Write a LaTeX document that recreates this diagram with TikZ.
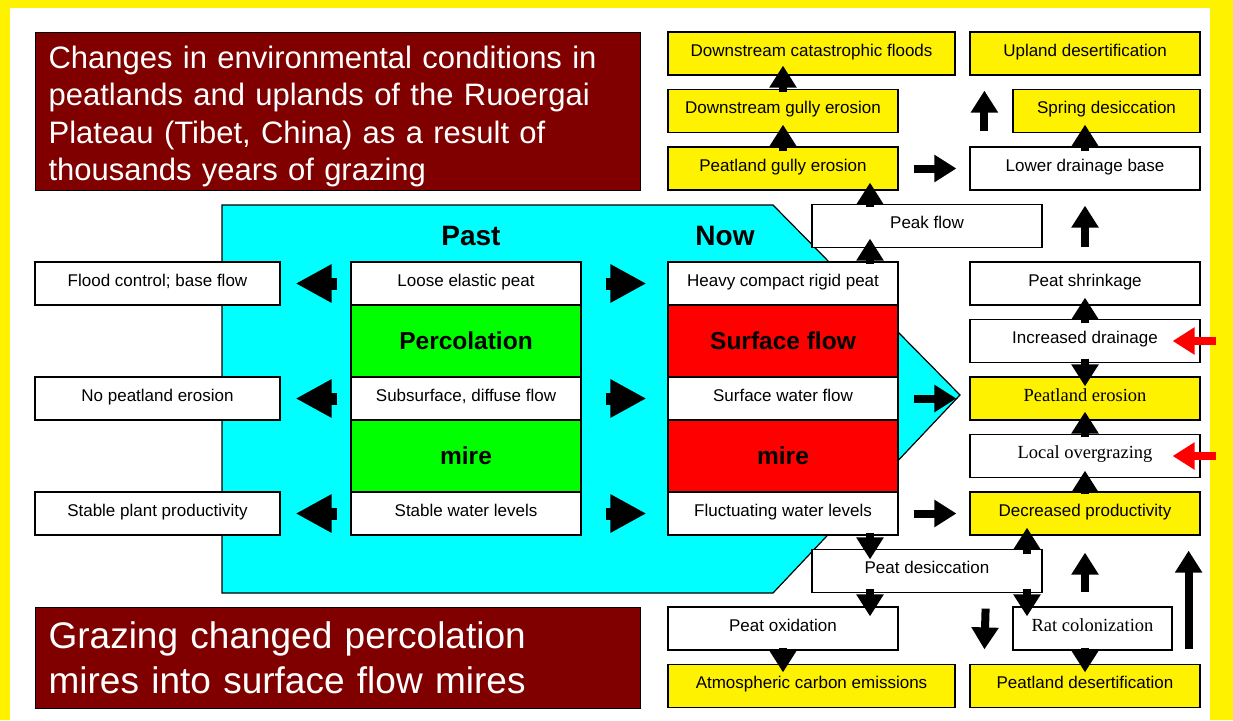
\documentclass[tikz,border=0pt]{standalone}
\usepackage{fontspec}
\setmainfont{Liberation Sans}
\newfontfamily\timesfont{Liberation Serif}
\usepackage{tikz}
\usetikzlibrary{arrows.meta,calc}
\definecolor{titlered}{HTML}{800000}
\definecolor{water}{HTML}{00FFFF}

\begin{document}
\begin{tikzpicture}[x=1pt,y=-1pt,
	cell/.style={draw,line width=1.2pt,minimum width=230,minimum height=43,inner sep=0pt,text height=12.5pt,text depth=7pt,font=\fontsize{17}{19}\selectfont},
	wcell/.style={cell,fill=white},
	ycell/.style={cell,fill=yellow},
	tcell/.style={font=\timesfont\fontsize{18.5}{20}\selectfont},
	flowcell/.style={cell,minimum height=72,text height=17.5pt,text depth=0pt,font=\bfseries\fontsize{24.5}{26}\selectfont},
	headbox/.style={draw,line width=1.2pt,fill=titlered,text=white,anchor=north west,inner xsep=13pt,inner ysep=0pt,text width=579pt,align=left},
	fat/.style={line width=8pt,-{Triangle[length=22pt,width=26pt]}},
	big/.style={line width=12pt,-{Triangle[length=36pt,width=36pt]}}]

	% frame
	\useasboundingbox (0,0) rectangle (1233,720);
	\fill[yellow] (0,0) rectangle (1233,720);
	\fill[white] (10,8) rectangle (1210,720);

	% past / now arrow
	\draw[fill=water,line width=1.2pt] (222,205) -- (773,205) -- (960,395) -- (773,593) -- (222,593) -- cycle;
	\node[font=\bfseries\fontsize{28}{30}\selectfont] (past) at (471,236) {Past};
	\node[font=\bfseries\fontsize{28}{30}\selectfont] (now) at (725,236) {Now};

	% titles
	\node[headbox,minimum height=158,font=\fontsize{31}{37.5}\selectfont] (head) at (35,32) {\rule{0pt}{32pt}Changes in environmental conditions in\\ peatlands and uplands of the Ruoergai\\ Plateau (Tibet, China) as a result of\\ thousands years of grazing};
	\node[headbox,minimum height=101,font=\fontsize{37}{45}\selectfont] (foot) at (35,607) {Grazing changed percolation\\ mires into surface flow mires};

	% left column
	\node[wcell,minimum width=245] (flood) at (157.5,283.5) {Flood control; base flow};
	\node[wcell,minimum width=245] (noeros) at (157.5,398.5) {No peatland erosion};
	\node[wcell,minimum width=245] (stablep) at (157.5,513.5) {Stable plant productivity};

	% past column
	\node[wcell] (loose) at (466,283.5) {Loose elastic peat};
	\node[flowcell,fill=green] (perc) at (466,341) {Percolation};
	\node[wcell] (subs) at (466,398.5) {Subsurface, diffuse flow};
	\node[flowcell,fill=green] (pmire) at (466,456) {mire};
	\node[wcell] (stablew) at (466,513.5) {Stable water levels};

	% now column
	\node[wcell] (heavy) at (783,283.5) {Heavy compact rigid peat};
	\node[flowcell,fill=red] (sflow) at (783,341) {Surface flow};
	\node[wcell] (surfw) at (783,398.5) {Surface water flow};
	\node[flowcell,fill=red] (nmire) at (783,456) {mire};
	\node[wcell] (fluct) at (783,513.5) {Fluctuating water levels};

	% consequences
	\node[ycell,minimum width=287] (floods) at (811.5,53.5) {Downstream catastrophic floods};
	\node[ycell] (upland) at (1085,53.5) {Upland desertification};
	\node[ycell] (dgully) at (783,111) {Downstream gully erosion};
	\node[ycell,minimum width=187] (spring) at (1106.5,111) {Spring desiccation};
	\node[ycell] (pgully) at (783,168.5) {Peatland gully erosion};
	\node[wcell] (lower) at (1085,168.5) {Lower drainage base};
	\node[wcell] (peak) at (927,226) {Peak flow};
	\node[wcell] (shrink) at (1085,283.5) {Peat shrinkage};
	\node[wcell] (incr) at (1085,341) {Increased drainage};
	\node[ycell,tcell] (eros) at (1085,398.5) {Peatland erosion};
	\node[wcell,tcell] (local) at (1085,456) {Local overgrazing};
	\node[ycell] (decr) at (1085,513.5) {Decreased productivity};
	\node[wcell] (desic) at (927,571) {Peat desiccation};
	\node[wcell] (oxid) at (783,628.5) {Peat oxidation};
	\node[wcell,tcell,minimum width=159] (rat) at (1092.5,628.5) {Rat colonization};
	\node[ycell,minimum width=287] (atmos) at (811.5,686) {Atmospheric carbon emissions};
	\node[ycell] (desert) at (1085,686) {Peatland desertification};

	% past and now effects
	\foreach \a/\b/\c in {loose/flood/heavy, subs/noeros/surfw, stablew/stablep/fluct}{
		\draw[big] ($(\a.west)+(-13,0)$) -- ($(\b.east)+(15,0)$);
		\draw[big] ($(\a.east)+(24,0)$) -- ($(\c.west)+(-21,0)$);
	}

	% upward chains
	\draw[fat] ($(dgully.north)+(0,3.5)$) -- ($(dgully.north |- floods.south)+(0,-10)$);
	\draw[fat] ($(pgully.north)+(0,5)$) -- ($(dgully.south)+(0,-8.5)$);
	\draw[fat] ($(peak.north)+(-57,3.5)$) -- ($(peak.north |- pgully.south)+(-57,-8)$);
	\draw[fat] ($(heavy.north)+(87,3)$) -- ($(heavy.north |- peak.south)+(87,-9.5)$);
	\draw[fat] ($(lower.north west)+(15,-15)$) -- ($(upland.south west)+(15,15)$);
	\draw[fat] ($(lower.north)+(0,5)$) -- ($(lower.north |- spring.south)+(0,-8.5)$);
	\draw[fat] ($(shrink.north)+(0,-14)$) -- ($(lower.south)+(0,15)$);
	\draw[fat] ($(incr.north)+(0,4.5)$) -- ($(shrink.south)+(0,-8)$);
	\draw[fat] ($(incr.south)+(0,-4.5)$) -- ($(eros.north)+(0,10)$);
	\draw[fat] ($(local.north)+(0,3.5)$) -- ($(eros.south)+(0,-9)$);
	\draw[fat] ($(decr.north)+(0,3)$) -- ($(local.south)+(0,-7.5)$);

	% downward chains
	\draw[fat] ($(fluct.south)+(87,-3)$) -- ($(fluct.south |- desic.north)+(87,10.5)$);
	\draw[fat] ($(desic.south)+(-57,-4.5)$) -- ($(desic.south |- oxid.north)+(-57,10)$);
	\draw[fat] ($(oxid.south)+(0,-3)$) -- ($(oxid.south |- atmos.north)+(0,8.5)$);
	\draw[fat] ($(desic.north)+(100,5.5)$) -- ($(desic.north |- decr.south)+(100,-8)$);
	\draw[fat] ($(desic.south)+(100,-4.5)$) -- ($(desic.south |- rat.north)+(100,10)$);
	\draw[fat] ($(desic.south east)+(-57,15.5)$) -- ($(desert.north west)+(15,-14.5)$);
	\draw[fat] ($(rat.south -| desert.north)+(0,-3)$) -- ($(desert.north)+(0,8.5)$);
	\draw[fat] ($(rat.north -| decr.south)+(0,-14)$) -- ($(decr.south)+(0,17)$);
	\draw[fat] ($(desert.north east)+(-12,-14.5)$) -- ($(decr.south east)+(-12,15)$);

	% sideways
	\draw[fat] ($(pgully.east)+(15,0)$) -- ($(pgully.east -| lower.west)+(-13,0)$);
	\draw[fat] ($(surfw.east)+(15,0)$) -- ($(surfw.east -| eros.west)+(-13,0)$);
	\draw[fat] ($(fluct.east)+(15,0)$) -- ($(decr.west)+(-13,0)$);
	\draw[fat,red] ($(incr.east)+(15,0)$) -- ($(incr.east)+(-28,0)$);
	\draw[fat,red] ($(local.east)+(15,0)$) -- ($(local.east)+(-28,0)$);
\end{tikzpicture}
\end{document}
